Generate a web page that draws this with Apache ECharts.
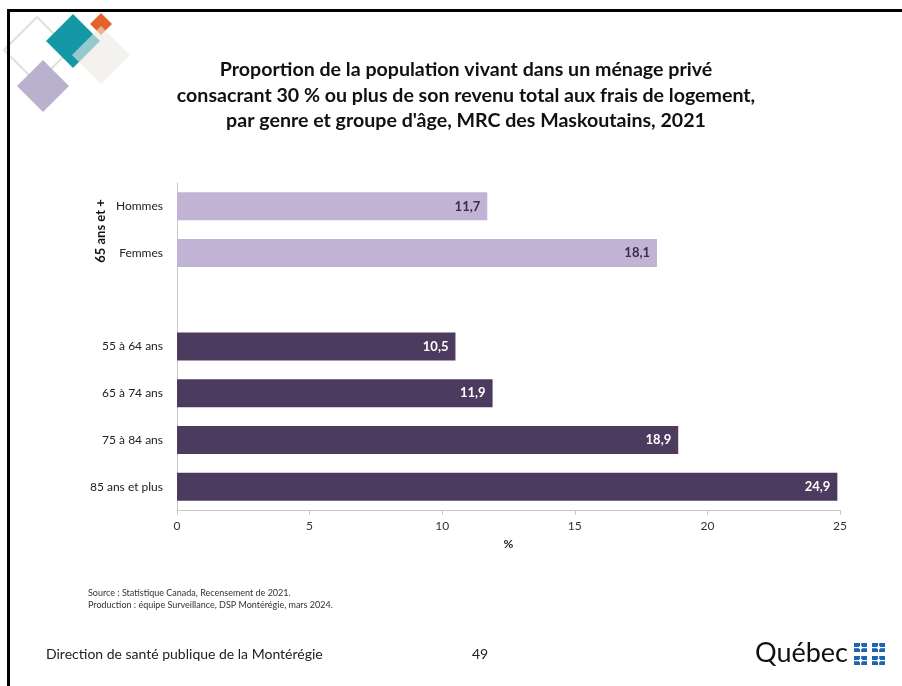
<!DOCTYPE html>
<html><head><meta charset="utf-8">
<script src="https://cdn.jsdelivr.net/npm/echarts@6/dist/echarts.min.js"></script>
<style>html,body{margin:0;padding:0;background:#fff}#c{width:902px;height:686px}</style>
</head><body><div id="c"></div>
<script>
const categories = ['Hommes', 'Femmes', '', '55 à 64 ans', '65 à 74 ans', '75 à 84 ans', '85 ans et plus'];
const values = [11.7, 18.1, null, 10.5, 11.9, 18.9, 24.9];
const groupType = ['genre', 'genre', '', 'age', 'age', 'age', 'age'];
const xTicks = [0, 5, 10, 15, 20, 25];
const titleLines = ['Proportion de la population vivant dans un ménage privé',
  'consacrant 30 % ou plus de son revenu total aux frais de logement,',
  "par genre et groupe d'âge, MRC des Maskoutains, 2021"];
const sourceLines = ['Source : Statistique Canada, Recensement de 2021.',
  'Production : équipe Surveillance, DSP Montérégie, mars 2024.'];

const LIGHT = '#c0b3d3', DARK = '#4c3b5f';
const FONT = 'Lato, "Open Sans", sans-serif';

function diamond(cx, cy, r) { return [[cx, cy - r], [cx + r, cy], [cx, cy + r], [cx - r, cy]]; }
function flag(x, y) {
  return [
    { type: 'rect', shape: { x: x, y: y, width: 13, height: 9 }, style: { fill: '#1e64ae' } },
    { type: 'rect', shape: { x: x + 6, y: y, width: 1.2, height: 9 }, style: { fill: '#fff' } },
    { type: 'rect', shape: { x: x, y: y + 4, width: 13, height: 1.2 }, style: { fill: '#fff' } },
    { type: 'circle', shape: { cx: x + 6.6, cy: y + 4.6, r: 1.8 }, style: { fill: '#fff' } }
  ];
}

const chart = echarts.init(document.getElementById('c'));
chart.setOption({
  animation: false,
  backgroundColor: '#fff',
  grid: { left: 177, right: 62, top: 183, bottom: 176, containLabel: false },
  xAxis: {
    type: 'value', min: 0, max: 25, interval: 5,
    name: '%', nameLocation: 'middle', nameGap: 28,
    nameTextStyle: { fontFamily: FONT, fontSize: 12, fontWeight: 'bold', color: '#222' },
    axisLine: { show: true, lineStyle: { color: '#c8c8c8' } },
    axisTick: { show: true, length: 5, lineStyle: { color: '#c8c8c8' } },
    axisLabel: { fontFamily: FONT, fontSize: 12, color: '#333', margin: 10,
      formatter: v => xTicks.includes(v) ? String(v) : '' },
    splitLine: { show: false }
  },
  yAxis: {
    type: 'category', data: categories, inverse: true,
    axisLine: { show: true, lineStyle: { color: '#c8c8c8' } },
    axisTick: { show: false },
    axisLabel: { fontFamily: FONT, fontSize: 12, color: '#222', margin: 14 }
  },
  series: [{
    type: 'bar', barWidth: '60%',
    data: values.map((v, i) => ({ value: v,
      itemStyle: { color: groupType[i] === 'genre' ? LIGHT : DARK },
      label: { color: groupType[i] === 'genre' ? '#3a2d4c' : '#fff' } })),
    label: { show: true, position: 'insideRight', distance: 7, fontFamily: FONT,
      fontSize: 13, fontWeight: 'bold',
      formatter: p => p.value == null ? '' : p.value.toFixed(1).replace('.', ',') }
  }],
  graphic: [
    // slide border
    { type: 'rect', shape: { x: 8.5, y: 10.5, width: 1000, height: 1000 }, style: { fill: null, stroke: '#000', lineWidth: 3 }, z: 10 },
    // decorative diamonds
    { type: 'polygon', shape: { points: diamond(37, 50, 33) }, style: { fill: null, stroke: '#dfe2d8', lineWidth: 2, lineJoin: 'round' } },
    { type: 'polygon', shape: { points: diamond(43, 86, 26) }, style: { fill: '#b9b1cd' } },
    { type: 'polygon', shape: { points: diamond(73, 41, 27) }, style: { fill: '#1598a6' } },
    { type: 'polygon', shape: { points: diamond(101, 24, 11) }, style: { fill: '#e4622b' } },
    { type: 'polygon', shape: { points: diamond(101, 55, 29) }, style: { fill: 'rgba(236,233,229,0.6)' } },
    // title
    { type: 'text', x: 466, y: 57, style: { text: titleLines.join('\n'), font: 'bold 19.6px ' + FONT, fill: '#111', textAlign: 'center', lineHeight: 25.5 } },
    // group label
    { type: 'text', x: 101, y: 231, rotation: Math.PI / 2, style: { text: '65 ans et +', font: 'bold 13px ' + FONT, fill: '#111', textAlign: 'center', textVerticalAlign: 'middle' } },
    // source
    { type: 'text', x: 88, y: 587, style: { text: sourceLines.join('\n'), font: '9px ' + FONT, fill: '#333', lineHeight: 12 } },
    // footer
    { type: 'text', x: 46, y: 647, style: { text: 'Direction de santé publique de la Montérégie', font: '14px ' + FONT, fill: '#222' } },
    { type: 'text', x: 472, y: 647, style: { text: '49', font: '14px ' + FONT, fill: '#222' } },
    { type: 'text', x: 755, y: 640, style: { text: 'Québec', font: '27px Lato, sans-serif', fill: '#111' } },
    ...flag(854, 643), ...flag(872, 643), ...flag(854, 656), ...flag(872, 656)
  ]
});
</script></body></html>
